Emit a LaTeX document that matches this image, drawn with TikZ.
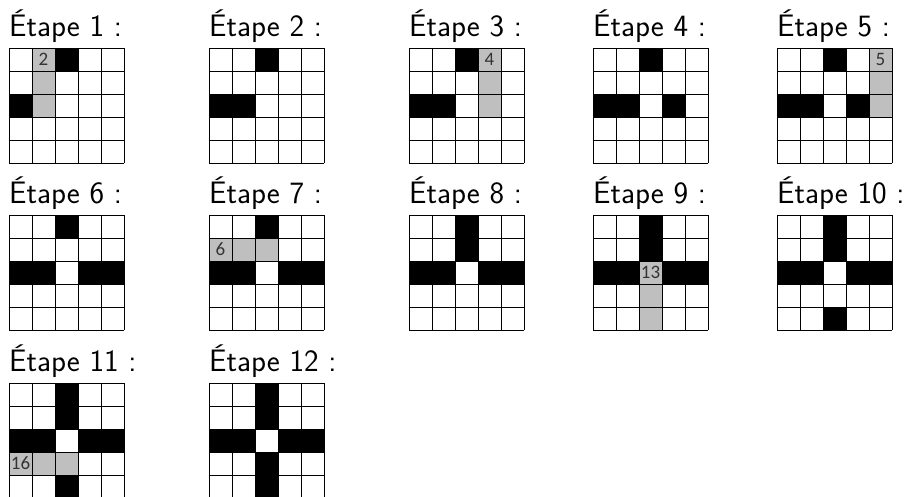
\documentclass[tikz,border=0pt]{standalone}
\usepackage{fontspec}
\newfontfamily\numfont{Carlito}
\usepackage{xcolor}
\usepackage{tikz}

\begin{document}
\begin{tikzpicture}[x=1pt, y=-1pt, trait/.style={draw=black,line width=0.9pt}, noir/.style={fill=black}, gris/.style={fill=black!25}, titre/.style={anchor=base west,inner sep=0pt,font=\fontsize{31}{37}\selectfont\sffamily}, nombre/.style={inner sep=0pt,text=black!80,font=\numfont\fontsize{19}{22}\selectfont}]
\useasboundingbox (0,0) rectangle (916,496);
% cases noires
\foreach \X/\Y/\liste in {9/48/{3/1,1/3}, 209/48/{3/1,1/3,2/3}, 409/48/{3/1,1/3,2/3}, 593/48/{3/1,1/3,2/3,4/3}, 777/48/{3/1,1/3,2/3,4/3}, 9/215/{3/1,1/3,2/3,4/3,5/3}, 209/215/{3/1,1/3,2/3,4/3,5/3}, 409/215/{3/1,1/3,2/3,4/3,5/3,3/2}, 593/215/{3/1,1/3,2/3,4/3,5/3,3/2}, 777/215/{3/1,1/3,2/3,4/3,5/3,3/2,3/5}, 9/383/{3/1,1/3,2/3,4/3,5/3,3/2,3/5}, 209/383/{3/1,1/3,2/3,4/3,5/3,3/2,3/5,3/4}}
  \foreach \c/\r in \liste
    \fill[noir] (\X+23*\c-23,\Y+23*\r-23) rectangle ++(23,23);
% cases grises
\foreach \X/\Y/\c/\r/\w/\h in {9/48/2/1/23/69, 409/48/4/1/23/69, 777/48/5/1/23/69, 209/215/1/2/69/23, 593/215/3/3/23/69, 9/383/1/4/69/23}
  \fill[gris] (\X+23*\c-23,\Y+23*\r-23) rectangle ++(\w,\h);
% grilles et titres
\foreach \n/\X/\Y in {1/9/48, 2/209/48, 3/409/48, 4/593/48, 5/777/48, 6/9/215, 7/209/215, 8/409/215, 9/593/215, 10/777/215, 11/9/383, 12/209/383} {
  \node[titre] (titre\n) at (\X,\Y-12) {Étape \n~:};
  \foreach \k in {0,...,5} {
    \draw[trait] (\X+23*\k,\Y) -- ++(0,115);
    \draw[trait] (\X,\Y+23*\k) -- ++(115,0);
  }
}
% nombres
\foreach \X/\Y/\c/\r/\num in {9/48/2/1/2, 409/48/4/1/4, 777/48/5/1/5, 209/215/1/2/6, 593/215/3/3/13, 9/383/1/4/16}
  \node[nombre] (num\num) at (\X+23*\c-11.5,\Y+23*\r-11.5) {\num};
\end{tikzpicture}
\end{document}
